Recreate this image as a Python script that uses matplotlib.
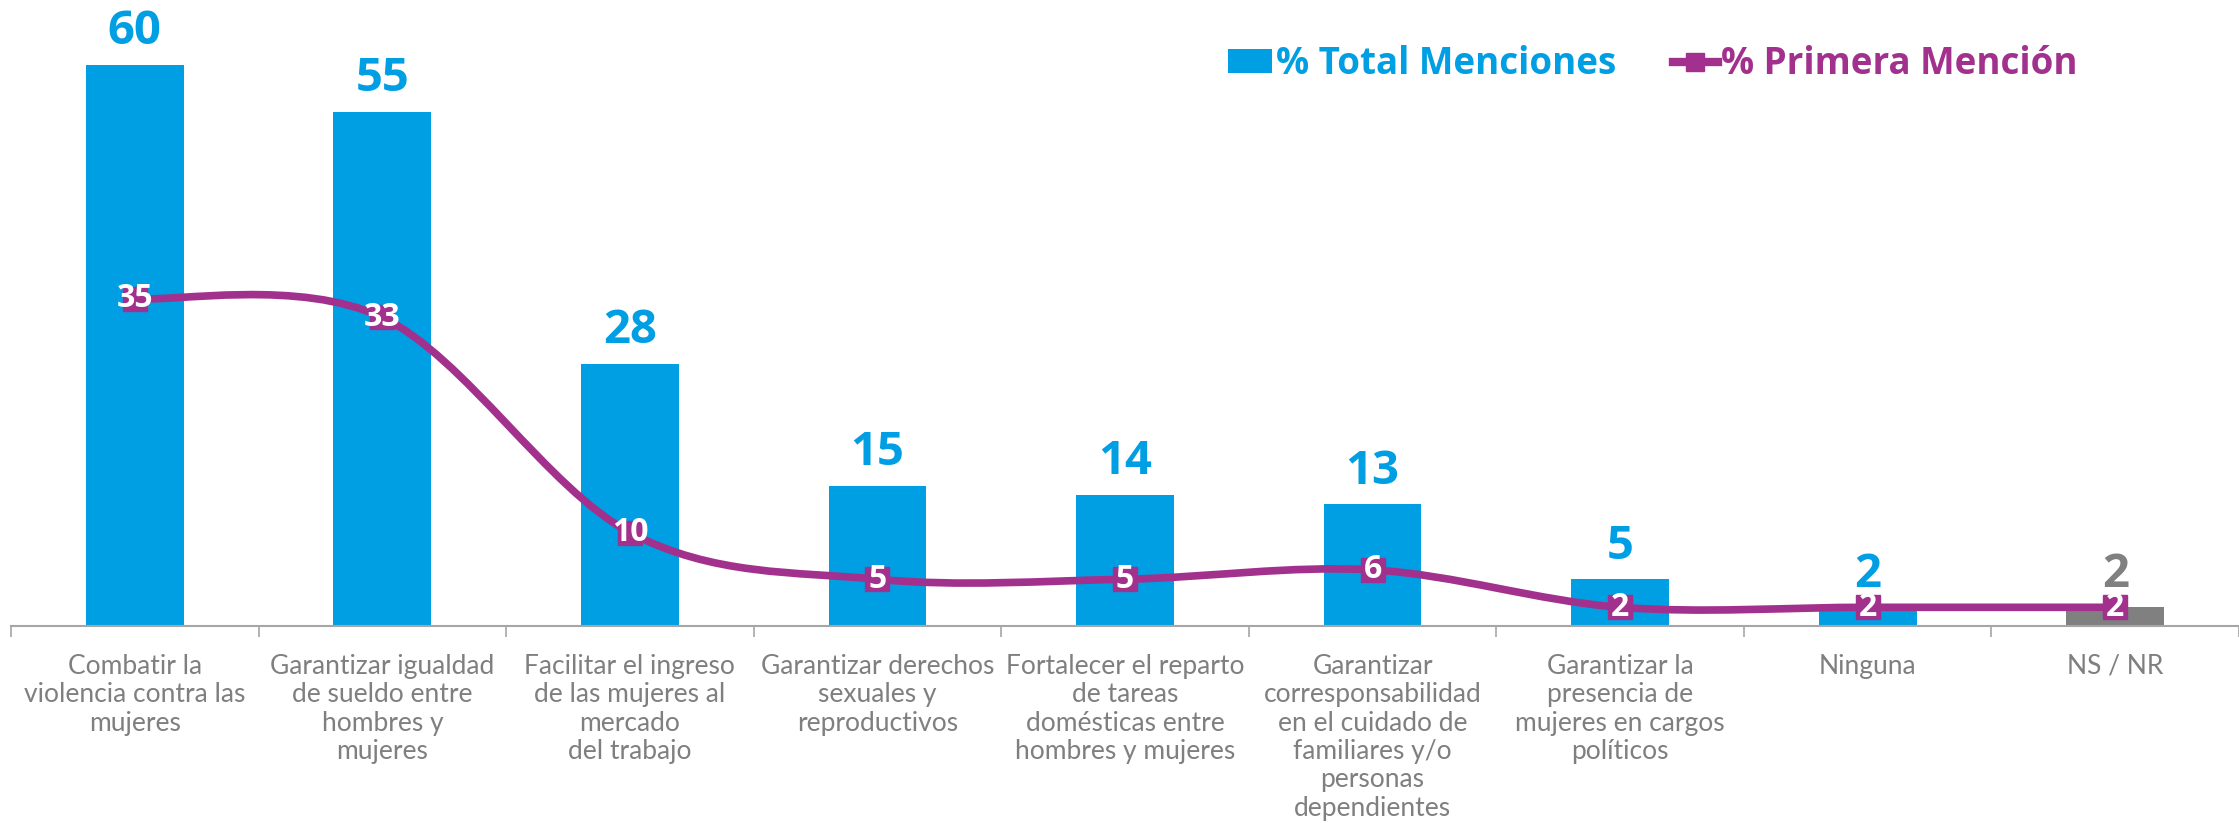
import matplotlib
matplotlib.use("Agg")
import matplotlib.pyplot as plt
from matplotlib.path import Path
from matplotlib.patches import PathPatch, Patch
from matplotlib.lines import Line2D

categories = [
    "Combatir la\nviolencia contra las\nmujeres",
    "Garantizar igualdad\nde sueldo entre\nhombres y\nmujeres",
    "Facilitar el ingreso\nde las mujeres al\nmercado\ndel trabajo",
    "Garantizar derechos\nsexuales y\nreproductivos",
    "Fortalecer el reparto\nde tareas\ndomésticas entre\nhombres y mujeres",
    "Garantizar\ncorresponsabilidad\nen el cuidado de\nfamiliares y/o\npersonas\ndependientes",
    "Garantizar la\npresencia de\nmujeres en cargos\npolíticos",
    "Ninguna",
    "NS / NR",
]
total_menciones = [60, 55, 28, 15, 14, 13, 5, 2, 2]
primera_mencion = [35, 33, 10, 5, 5, 6, 2, 2, 2]
series_names = ["% Total Menciones", "% Primera Mención"]

BLUE = "#009FE3"
PURPLE = "#A2318E"
GRAY = "#808080"
TXT = "#7F7F7F"

W, H = 2239, 823
fig = plt.figure(figsize=(W / 100, H / 100), dpi=100)
base_px = 626
unit = 9.35
ymax = 66
ax = fig.add_axes([11 / W, (H - base_px) / H, (W - 11) / W, ymax * unit / H])

x = list(range(len(categories)))
bar_colors = [BLUE] * (len(categories) - 1) + [GRAY]
bars = ax.bar(x, total_menciones, width=0.395, color=bar_colors, zorder=2)

num_font = "Open Sans"
for xi, v, c in zip(x, total_menciones, bar_colors):
    ax.annotate(str(v), (xi, v), xytext=(0, 7), textcoords="offset points",
                ha="center", va="bottom", fontsize=34, fontweight="bold",
                color=c, family=num_font)

# smooth line (Excel-like Bezier smoothing)
pts = list(zip(x, primera_mencion))
verts = [pts[0]]
codes = [Path.MOVETO]
n = len(pts)
for i in range(n - 1):
    p0 = pts[max(i - 1, 0)]
    p1 = pts[i]
    p2 = pts[i + 1]
    p3 = pts[min(i + 2, n - 1)]
    c1 = (p1[0] + (p2[0] - p0[0]) / 6, p1[1] + (p2[1] - p0[1]) / 6)
    c2 = (p2[0] - (p3[0] - p1[0]) / 6, p2[1] - (p3[1] - p1[1]) / 6)
    verts += [c1, c2, p2]
    codes += [Path.CURVE4] * 3
ax.add_patch(PathPatch(Path(verts, codes), facecolor="none", edgecolor=PURPLE,
                       lw=5.5, zorder=3, capstyle="round"))
ax.plot(x, primera_mencion, ls="none", marker="s", ms=17, color=PURPLE, zorder=4)
for xi, v in zip(x, primera_mencion):
    ax.text(xi, v, str(v), ha="center", va="center", fontsize=23,
            fontweight="bold", color="white", family=num_font, zorder=5)

ax.set_xlim(-0.5, -0.5 + (W - 11) / 249)
ax.set_ylim(0, ymax)
for s in ["top", "right", "left"]:
    ax.spines[s].set_visible(False)
ax.spines["bottom"].set_color("#A6A6A6")
ax.spines["bottom"].set_linewidth(1.5)
ax.set_yticks([])
ax.set_xticks(x)
ax.set_xticklabels(categories, fontsize=19, color=TXT, family="Lato",
                   linespacing=1.17, va="top")
ax.tick_params(axis="x", which="major", length=0, pad=20)
ax.set_xticks([i - 0.5 for i in range(len(categories) + 1)], minor=True)
ax.tick_params(axis="x", which="minor", length=8, width=1.2, color="#A6A6A6")

handles = [Patch(facecolor=BLUE, edgecolor="none"),
           Line2D([0], [0], color=PURPLE, lw=6, marker="s", ms=13)]
leg = fig.legend(handles, series_names, loc="center", ncol=2,
                 bbox_to_anchor=(1653 / W, 1 - 64 / H), frameon=False,
                 prop={"family": num_font, "weight": "bold", "size": 26.5},
                 handlelength=1.2, handletextpad=0.1, columnspacing=1.55,
                 handleheight=0.6)
for t, c in zip(leg.get_texts(), [BLUE, PURPLE]):
    t.set_color(c)

fig.savefig("out.png", dpi=100)
